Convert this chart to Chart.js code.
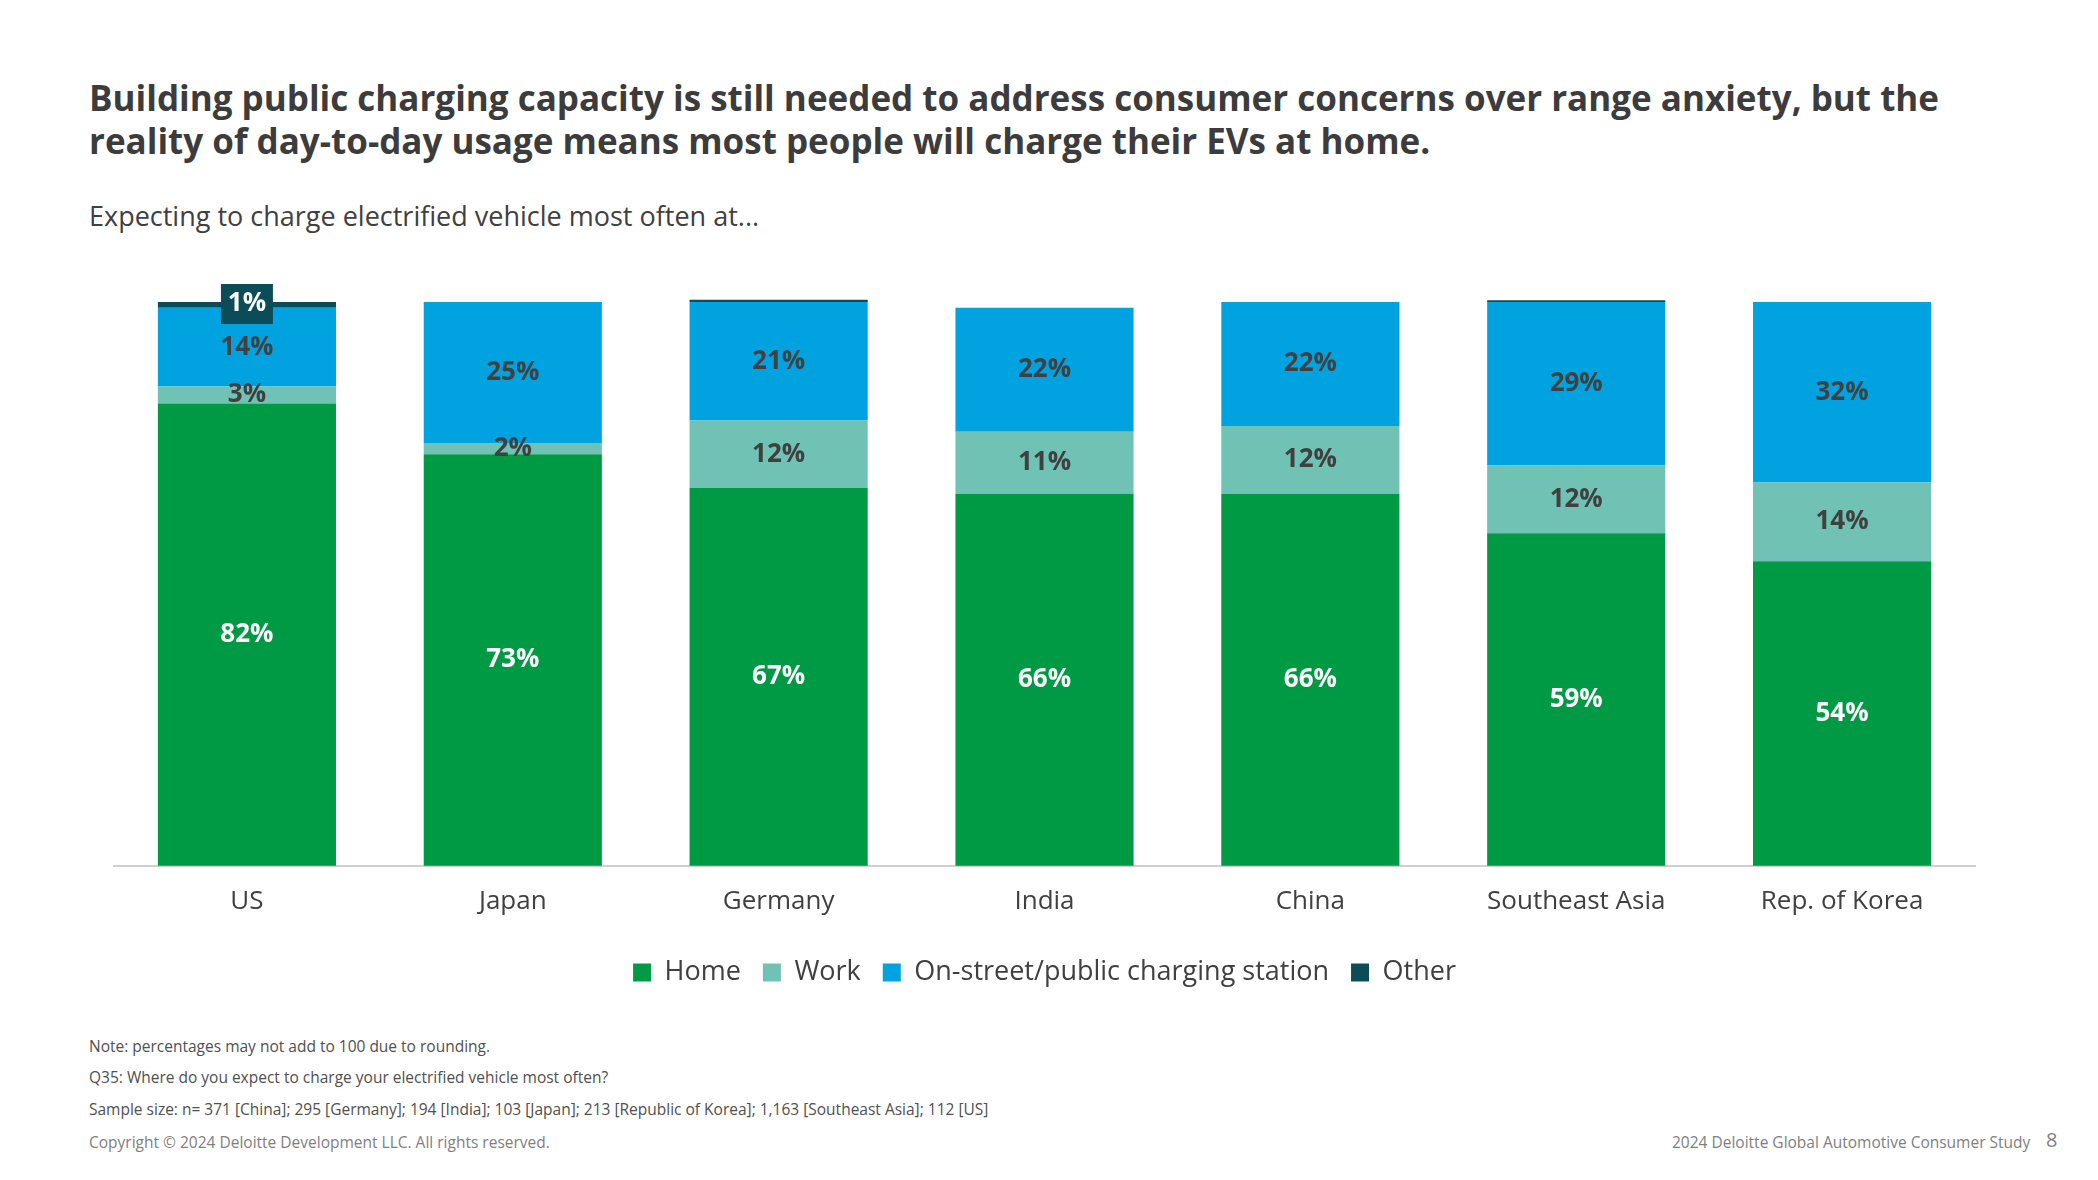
<!DOCTYPE html>
<html><head><meta charset="utf-8">
<script src="https://cdn.jsdelivr.net/npm/chart.js@4"></script>
<style>
body{margin:0;width:2098px;height:1180px;background:#fff;font-family:"Open Sans",sans-serif;color:#404040;position:relative;overflow:hidden}
.t{position:absolute;left:89px;top:76px;font-size:35px;font-weight:700;line-height:43px;color:#3c3c3c;width:1950px}
.s{position:absolute;left:89px;top:197px;font-size:27px}
.n{position:absolute;left:89px;font-size:15.5px;color:#505050}
.r{position:absolute;font-size:15.5px;color:#808080;top:1131px}
#wrap{position:absolute;left:0;top:260px;width:2098px;height:736px}
</style></head><body>
<div class="t">Building public charging capacity is still needed to address consumer concerns over range anxiety, but the reality of day-to-day usage means most people will charge their EVs at home.</div>
<div class="s">Expecting to charge electrified vehicle most often at...</div>
<div id="wrap"><canvas id="c"></canvas></div>
<div class="n" style="top:1035px">Note: percentages may not add to 100 due to rounding.</div>
<div class="n" style="top:1066px">Q35: Where do you expect to charge your electrified vehicle most often?</div>
<div class="n" style="top:1098px">Sample size: n= 371 [China]; 295 [Germany]; 194 [India]; 103 [Japan]; 213 [Republic of Korea]; 1,163 [Southeast Asia]; 112 [US]</div>
<div class="r" style="left:89px">Copyright © 2024 Deloitte Development LLC. All rights reserved.</div>
<div class="r" style="left:1672px">2024 Deloitte Global Automotive Consumer Study</div>
<div class="r" style="left:2046px;font-size:20px;top:1126px">8</div>
<script>
const categories = ["US", "Japan", "Germany", "India", "China", "Southeast Asia", "Rep. of Korea"];
const home = [82, 73, 67, 66, 66, 59, 54];
const work = [3, 2, 12, 11, 12, 12, 14];
const publicStation = [14, 25, 21, 22, 22, 29, 32];
const other = [1, 0, 0.4, 0, 0, 0.3, 0];
const otherLabels = ["1%", "", "", "", "", "", ""];

const labelPlugin = {
  id: "lbl",
  afterDatasetsDraw(chart) {
    const ctx = chart.ctx;
    ctx.save();
    ctx.textAlign = "center"; ctx.textBaseline = "middle";
    ctx.font = "700 26px 'Open Sans'";
    chart.data.datasets.forEach((ds, di) => {
      const meta = chart.getDatasetMeta(di);
      meta.data.forEach((bar, i) => {
        const v = ds.data[i];
        if (di === 3) {
          if (!otherLabels[i]) return;
          const w = 52, h = 40, y = bar.y + 2;
          ctx.fillStyle = "#0b4c58";
          ctx.fillRect(bar.x - w / 2, y - h / 2, w, h);
          ctx.fillStyle = "#fff";
          ctx.fillText(otherLabels[i], bar.x, y);
          return;
        }
        const mid = (bar.y + bar.base) / 2;
        ctx.fillStyle = di === 0 ? "#fff" : "#404040";
        ctx.fillText(v + "%", bar.x, mid);
      });
    });
    ctx.restore();
  }
};

const common = { barPercentage: 0.67, categoryPercentage: 1, clip: false };
new Chart(document.getElementById("c"), {
  type: "bar",
  data: {
    labels: categories,
    datasets: [
      { label: "Home", data: home, backgroundColor: "#009a44", ...common },
      { label: "Work", data: work, backgroundColor: "#6fc2b4", ...common },
      { label: "On-street/public charging station", data: publicStation, backgroundColor: "#00a3e0", ...common },
      { label: "Other", data: other, backgroundColor: "#0b4c58", ...common }
    ]
  },
  options: {
    responsive: true, maintainAspectRatio: false, animation: false,
    layout: { padding: { left: 114, right: 123, top: 42, bottom: 0 } },
    scales: {
      x: { stacked: true, grid: { display: false, drawTicks: false },
           border: { color: "#d0d0d0", width: 2 },
           ticks: { color: "#404040", font: { family: "Open Sans", size: 26 }, padding: 20 } },
      y: { stacked: true, min: 0, max: 100, display: false }
    },
    plugins: {
      tooltip: { enabled: false },
      legend: { position: "bottom",
        labels: { color: "#404040", font: { family: "Open Sans", size: 27 }, boxWidth: 18, boxHeight: 18, padding: 22 } }
    }
  },
  plugins: [labelPlugin]
});
</script>
</body></html>
